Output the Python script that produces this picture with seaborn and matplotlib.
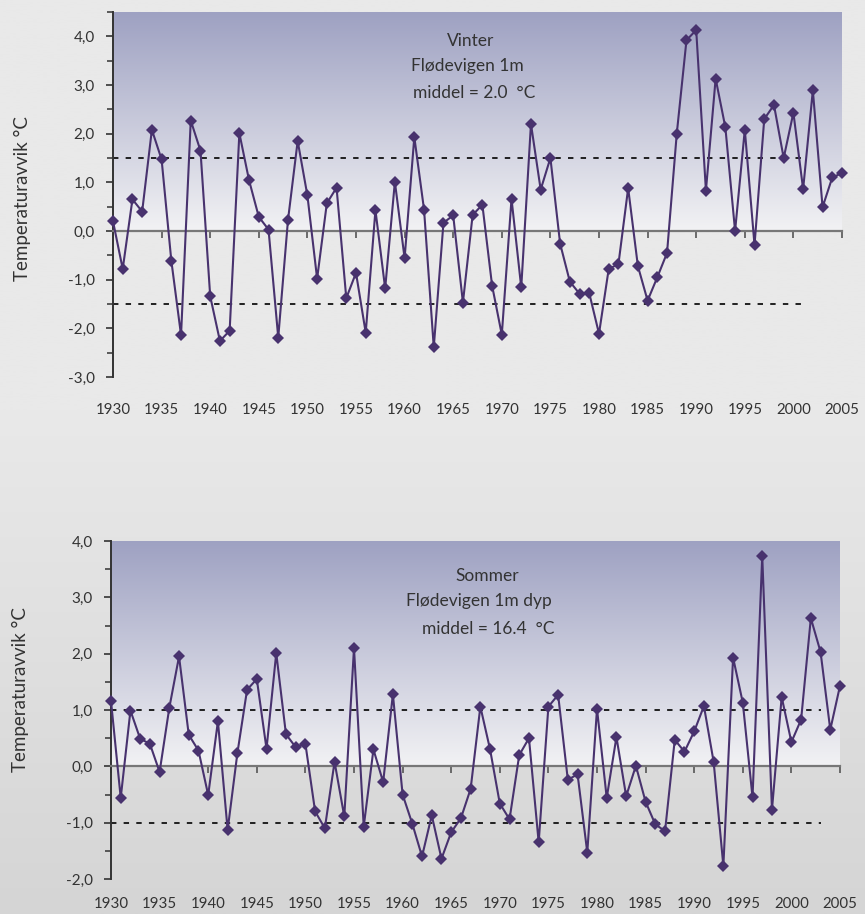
import numpy as np
import matplotlib
matplotlib.use("Agg")
import matplotlib.pyplot as plt
import seaborn as sns
from matplotlib.colors import to_rgb
from matplotlib.ticker import MultipleLocator

# ---------------- data ----------------
years = list(range(1930, 2006))

winter = [0.20, -0.78, 0.65, 0.40, 2.08, 1.47, -0.61, -2.14, 2.27, 1.65,
          -1.34, -2.26, -2.05, 2.01, 1.04, 0.29, 0.03, -2.19, 0.22, 1.85,
          0.73, -0.98, 0.57, 0.89, -1.38, -0.86, -2.09, 0.43, -1.18, 1.01,
          -0.56, 1.93, 0.44, -2.39, 0.17, 0.32, -1.47, 0.33, 0.54, -1.12,
          -2.13, 0.66, -1.16, 2.20, 0.85, 1.50, -0.26, -1.04, -1.29, -1.28,
          -2.11, -0.78, -0.68, 0.88, -0.72, -1.43, -0.95, -0.45, 2.00, 3.92,
          4.13, 0.83, 3.13, 2.13, 0.00, 2.08, -0.29, 2.30, 2.59, 1.50,
          2.43, 0.86, 2.89, 0.49, 1.10, 1.19]

summer = [1.16, -0.56, 0.99, 0.49, 0.40, -0.10, 1.04, 1.95, 0.56, 0.28,
          -0.51, 0.80, -1.13, 0.23, 1.36, 1.55, 0.31, 2.01, 0.57, 0.34,
          0.40, -0.80, -1.10, 0.08, -0.89, 2.10, -1.07, 0.30, -0.28, 1.28,
          -0.50, -1.02, -1.60, -0.87, -1.64, -1.17, -0.92, -0.40, 1.06, 0.30,
          -0.66, -0.94, 0.20, 0.50, -1.35, 1.06, 1.27, -0.24, -0.14, -1.53,
          1.02, -0.56, 0.52, -0.53, 0.01, -0.63, -1.03, -1.15, 0.47, 0.26,
          0.62, 1.07, 0.08, -1.77, 1.93, 1.13, -0.55, 3.73, -0.77, 1.23,
          0.43, 0.83, 2.63, 2.03, 0.65, 1.43]

x_ticks = list(range(1930, 2006, 5))
x_ticklabels = [str(y) for y in x_ticks]

winter_yticks = [-3, -2, -1, 0, 1, 2, 3, 4]
winter_yticklabels = ["-3,0", "-2,0", "-1,0", "0,0", "1,0", "2,0", "3,0", "4,0"]
summer_yticks = [-2, -1, 0, 1, 2, 3, 4]
summer_yticklabels = ["-2,0", "-1,0", "0,0", "1,0", "2,0", "3,0", "4,0"]

winter_limits = [-1.5, 1.5]
winter_limit_end = 2001
summer_limits = [-1.0, 1.0]
summer_limit_end = 2003

winter_title = ["Vinter", "Flødevigen 1m", "middel = 2.0  °C"]
summer_title = ["Sommer", "Flødevigen 1m dyp", "middel = 16.4  °C"]
ylabel = "Temperaturavvik °C"

# ---------------- style ----------------
sns.set_theme(style="ticks")
plt.rcParams['font.family'] = ['Lato', 'DejaVu Sans']
TEXT = "#333333"
LINE = "#48326E"
TOPC = np.array(to_rgb("#9EA1C2"))
ZEROC = np.array(to_rgb("#F2F2F4"))

W, H = 865, 914
fig = plt.figure(figsize=(W / 100, H / 100), dpi=100)
fig.patch.set_facecolor("#E8E8E8")

# figure background gradient
bg = fig.add_axes([0, 0, 1, 1], zorder=-10)
t = np.linspace(0, 1, 400)
g = np.where(t < 0.45, 0.0, (t - 0.45) / 0.55)
c_top = np.array(to_rgb("#E9E9E9"))
c_bot = np.array(to_rgb("#D5D5D5"))
bgimg = (c_top[None, :] * (1 - g[:, None]) + c_bot[None, :] * g[:, None])[:, None, :]
bg.imshow(bgimg, aspect="auto", extent=[0, 1, 0, 1], origin="upper")
bg.axis("off")


def make_panel(rect, values, ylim, yticks, yticklabels, limits, limit_end,
               label_pad, ylabel_y):
    ax = fig.add_axes(rect)
    ax.set_facecolor("none")
    # plot area gradient above zero
    n = 300
    s = np.linspace(0, 1, n)[:, None]
    img = (TOPC[None, :] * (1 - s) + ZEROC[None, :] * s)[:, None, :]
    ax.imshow(img, aspect="auto", extent=[1930, 2005, 0, ylim[1]],
              origin="upper", zorder=0, interpolation="bilinear")
    # threshold lines
    for lv in limits:
        ax.hlines(lv, 1930, limit_end, colors="#111111", linestyles=(0, (3, 4)),
                  linewidth=1.3, zorder=2)
    sns.lineplot(x=years, y=values, ax=ax, color=LINE, linewidth=1.5,
                 marker="D", markersize=6.5, markeredgewidth=0, zorder=3,
                 clip_on=False)
    ax.set_xlim(1930, 2005)
    ax.set_ylim(*ylim)
    # spines
    for sp in ("top", "right"):
        ax.spines[sp].set_visible(False)
    ax.spines["bottom"].set_position(("data", 0))
    ax.spines["bottom"].set_color("#777777")
    ax.spines["bottom"].set_linewidth(1.6)
    ax.spines["bottom"].set_zorder(2.5)
    ax.spines["left"].set_color("#333333")
    ax.spines["left"].set_linewidth(1.4)
    # x ticks on zero line
    ax.set_xticks(x_ticks)
    ax.tick_params(axis="x", direction="out", length=5, width=1.2,
                   color="#555555", labelbottom=False)
    # x tick labels at bottom
    sec = ax.secondary_xaxis("bottom")
    sec.set_xticks(x_ticks, x_ticklabels)
    sec.tick_params(length=0, pad=label_pad, labelsize=10.8, labelcolor=TEXT)
    sec.spines["bottom"].set_visible(False)
    # y ticks
    ax.set_yticks(yticks, yticklabels)
    ax.yaxis.set_minor_locator(MultipleLocator(0.5))
    ax.tick_params(axis="y", which="major", direction="out", length=5, width=1.2,
                   color="#333333", labelsize=11, labelcolor=TEXT, pad=8)
    ax.tick_params(axis="y", which="minor", direction="out", length=4, width=1.1,
                   color="#333333")
    ax.set_ylabel(ylabel, fontsize=13.5, color=TEXT)
    ax.yaxis.set_label_coords(-0.113, ylabel_y)
    ax.set_xlabel("")
    return ax


ax1 = make_panel([113 / W, 1 - 377 / H, 729 / W, 365 / H], winter, (-3, 4.5),
                 winter_yticks, winter_yticklabels, winter_limits,
                 winter_limit_end, 19, 0.49)
ax2 = make_panel([111 / W, 1 - 879 / H, 729 / W, 338 / H], summer, (-2, 4),
                 summer_yticks, summer_yticklabels, summer_limits,
                 summer_limit_end, 13, 0.56)

for txt, (px, py) in zip(winter_title, [(471, 41), (467, 66), (474, 93)]):
    fig.text(px / W, 1 - py / H, txt, ha="center", va="center",
             fontsize=12.5, color=TEXT)
for txt, (px, py) in zip(summer_title, [(487, 576), (479, 601), (488, 629)]):
    fig.text(px / W, 1 - py / H, txt, ha="center", va="center",
             fontsize=12.5, color=TEXT)

fig.savefig("out.png", dpi=100, facecolor=fig.get_facecolor())
